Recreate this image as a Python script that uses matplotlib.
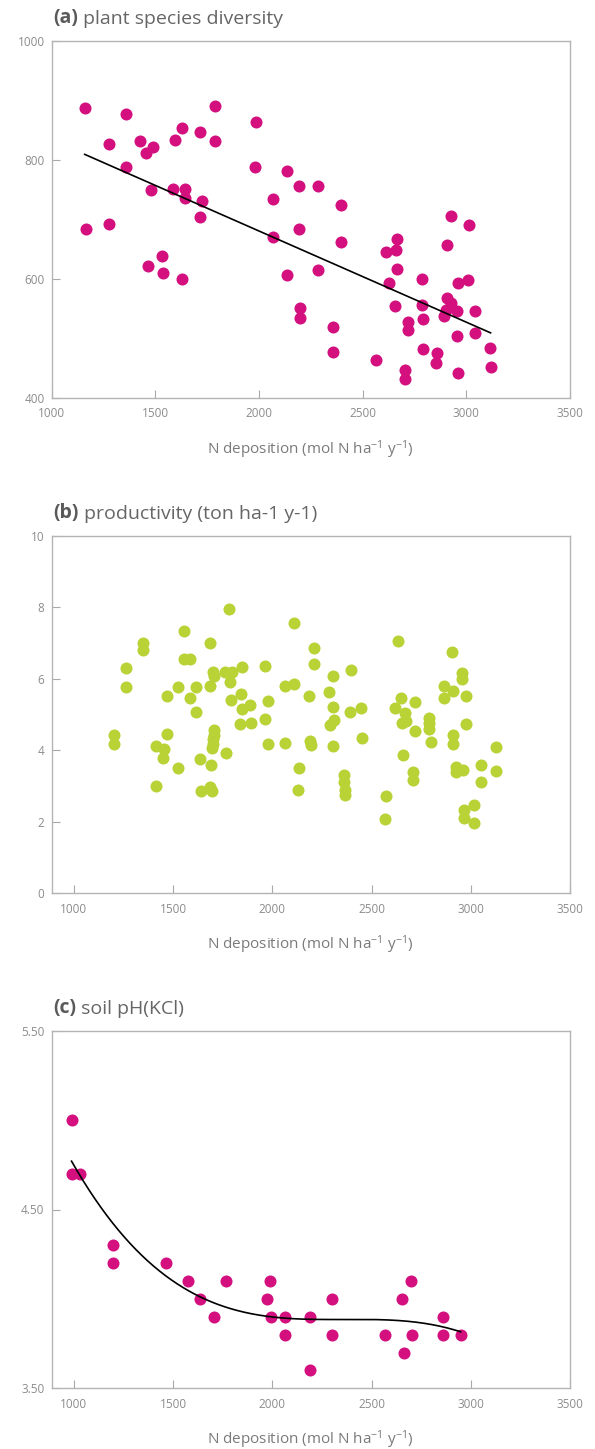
import numpy as np
import matplotlib.pyplot as plt

# (a) plant species diversity
div_x = [1160, 1164, 1278, 1276, 1360, 1360, 1426, 1456, 1487, 1478, 1463, 1535, 1537,
         1585, 1595, 1630, 1644, 1642, 1630, 1716, 1725, 1716, 1788, 1790, 1984, 1982,
         2068, 2070, 2136, 2134, 2195, 2195, 2198, 2198, 2286, 2284, 2394, 2394, 2358,
         2357, 2567, 2612, 2625, 2664, 2660, 2667, 2654, 2717, 2717, 2704, 2704, 2787,
         2786, 2789, 2789, 2861, 2855, 2925, 2906, 2906, 2924, 2904, 2893, 2956, 2959,
         3006, 3012, 2956, 2959, 3044, 3044, 3112, 3117]
div_y = [887, 684, 827, 692, 876, 788, 832, 812, 821, 749, 622, 638, 610,
         750, 833, 853, 751, 736, 600, 847, 730, 704, 890, 832, 863, 788,
         734, 670, 781, 606, 756, 683, 550, 534, 755, 615, 724, 662, 519,
         476, 463, 645, 593, 666, 649, 617, 554, 528, 513, 446, 431, 599,
         555, 532, 482, 475, 458, 706, 656, 568, 559, 548, 538, 545, 592,
         598, 690, 504, 441, 545, 508, 483, 452]
# trend line as drawn in the figure
div_trend_x = [1160, 3117]
div_trend_y = [809, 509]

# (b) productivity
prod_x = [1201, 1201, 1263, 1263, 1349, 1349, 1412, 1412, 1456, 1451, 1467, 1467, 1523,
          1525, 1556, 1556, 1586, 1586, 1614, 1616, 1636, 1641, 1685, 1688, 1689, 1687,
          1698, 1702, 1705, 1707, 1705, 1702, 1700, 1698, 1760, 1768, 1781, 1785, 1793,
          1798, 1838, 1844, 1847, 1849, 1888, 1892, 1962, 1962, 1976, 1976, 2062, 2064,
          2107, 2107, 2131, 2134, 2187, 2190, 2194, 2209, 2212, 2285, 2290, 2305, 2307,
          2307, 2312, 2359, 2363, 2368, 2365, 2391, 2398, 2448, 2452, 2568, 2573, 2617,
          2631, 2648, 2654, 2658, 2669, 2675, 2710, 2710, 2717, 2720, 2788, 2790, 2791,
          2799, 2867, 2867, 2907, 2911, 2911, 2911, 2928, 2928, 2955, 2958, 2963, 2967,
          2967, 2975, 2975, 3014, 3016, 3051, 3053, 3125, 3125]
prod_y = [4.43, 4.18, 6.30, 5.76, 7.00, 6.81, 4.11, 3.00, 4.03, 3.77, 5.51, 4.45, 5.78,
          3.51, 7.34, 6.54, 6.54, 5.45, 5.76, 5.06, 3.75, 2.87, 5.79, 7.01, 3.58, 2.96,
          2.86, 6.18, 6.08, 4.56, 4.44, 4.31, 4.18, 4.07, 6.18, 3.91, 7.96, 5.90, 5.40,
          6.18, 4.73, 5.57, 5.14, 6.33, 5.26, 4.76, 6.36, 4.87, 5.38, 4.17, 5.79, 4.19,
          5.86, 7.57, 2.89, 3.49, 5.52, 4.27, 4.14, 6.87, 6.42, 5.64, 4.71, 6.07, 5.22,
          4.12, 4.86, 3.31, 3.10, 2.89, 2.74, 5.07, 6.24, 5.18, 4.34, 2.08, 2.71, 5.17,
          7.05, 5.46, 4.77, 3.87, 5.05, 4.81, 3.38, 3.16, 4.55, 5.34, 4.89, 4.77, 4.60,
          4.24, 5.81, 5.45, 6.75, 5.65, 4.43, 4.17, 3.53, 3.39, 6.00, 6.16, 3.44, 2.33,
          2.10, 5.52, 4.74, 2.48, 1.96, 3.10, 3.58, 4.09, 3.42]

# (c) soil pH(KCl)
ph_x = [992, 988, 1030, 1197, 1197, 1464, 1574, 1765, 1635, 1704, 1986, 1972, 1991, 2065,
        2065, 2190, 2188, 2303, 2303, 2566, 2654, 2701, 2662, 2705, 2862, 2862, 2949]
ph_y = [5.00, 4.70, 4.70, 4.30, 4.20, 4.20, 4.10, 4.10, 4.00, 3.90, 4.10, 4.00, 3.90, 3.90,
        3.80, 3.90, 3.60, 4.00, 3.80, 3.80, 4.00, 4.10, 3.70, 3.80, 3.90, 3.80, 3.80]

titles = [('(a)', ' plant species diversity'),
          ('(b)', ' productivity (ton ha-1 y-1)'),
          ('(c)', ' soil pH(KCl)')]
xlabel = r'N deposition (mol N ha$^{-1}$ y$^{-1}$)'

magenta = '#d4107f'
lime = '#b9d236'


def style_axes(ax, xlim, ylim, yticks, yfmt='{:g}'):
    ax.set_xlim(*xlim)
    ax.set_ylim(*ylim)
    ax.set_xticks([1000, 1500, 2000, 2500, 3000, 3500])
    ax.set_yticks(yticks)
    ax.set_yticklabels([yfmt.format(v) for v in yticks])
    for s in ax.spines.values():
        s.set_color('#b4b4b4')
        s.set_linewidth(1.0)
    ax.tick_params(direction='in', length=6, width=0.8, color='#a8a8a8',
                   labelcolor='#8c8c8c', labelsize=8.5)
    ax.tick_params(axis='x', pad=7)
    ax.tick_params(axis='y', pad=5)
    ax.set_xlabel(xlabel, fontsize=11, color='#7a7a7a')
    ax.xaxis.set_label_coords(0.5, -0.145)
    ax.xaxis.label.set_va('center')


def add_title(fig, y, bold, rest):
    t = fig.text(53.5 / 595, 1 - y / 1449, bold, fontsize=14, weight='bold',
                 color='#5a5a5a', va='center', ha='left')
    plt.annotate(rest, xy=(1, 0), xycoords=t, fontsize=14, color='#666666',
                 va='bottom', ha='left', annotation_clip=False)


def run():
    plt.rcParams['font.family'] = ['Open Sans', 'DejaVu Sans']
    plt.rcParams['mathtext.fontset'] = 'custom'
    plt.rcParams['mathtext.rm'] = 'Open Sans'
    plt.rcParams['mathtext.default'] = 'regular'

    fig = plt.figure(figsize=(5.95, 14.49), dpi=100)
    left, width = 51.5 / 595, (570 - 51.5) / 595
    ax1 = fig.add_axes([left, 1 - 397.7 / 1449, width, 357 / 1449])
    ax2 = fig.add_axes([left, 1 - 893.3 / 1449, width, 357.6 / 1449])
    ax3 = fig.add_axes([left, 1 - 1388.3 / 1449, width, 357.6 / 1449])

    # (a)
    ax1.scatter(div_x, div_y, s=75, c=magenta, linewidths=0, zorder=2)
    ax1.plot(div_trend_x, div_trend_y, c='black', lw=1.2, zorder=3)
    style_axes(ax1, (1000, 3500), (400, 1000), [400, 600, 800, 1000])

    # (b)
    ax2.scatter(prod_x, prod_y, s=75, c=lime, linewidths=0, zorder=2)
    style_axes(ax2, (887, 3500), (0, 10), [0, 2, 4, 6, 8, 10])

    # (c)
    ax3.scatter(ph_x, ph_y, s=75, c=magenta, linewidths=0, zorder=2)
    k3 = np.polyfit(ph_x, ph_y, 3)
    cx = np.linspace(min(ph_x), max(ph_x), 200)
    ax3.plot(cx, np.polyval(k3, cx), c='black', lw=1.2, zorder=3)
    style_axes(ax3, (887, 3500), (3.5, 5.5), [3.5, 4.5, 5.5], '{:.2f}')

    for (b, r), y in zip(titles, [18, 513, 1008]):
        add_title(fig, y, b, r)

    plt.savefig('out.png', dpi=100)


if __name__ == '__main__':
    run()
